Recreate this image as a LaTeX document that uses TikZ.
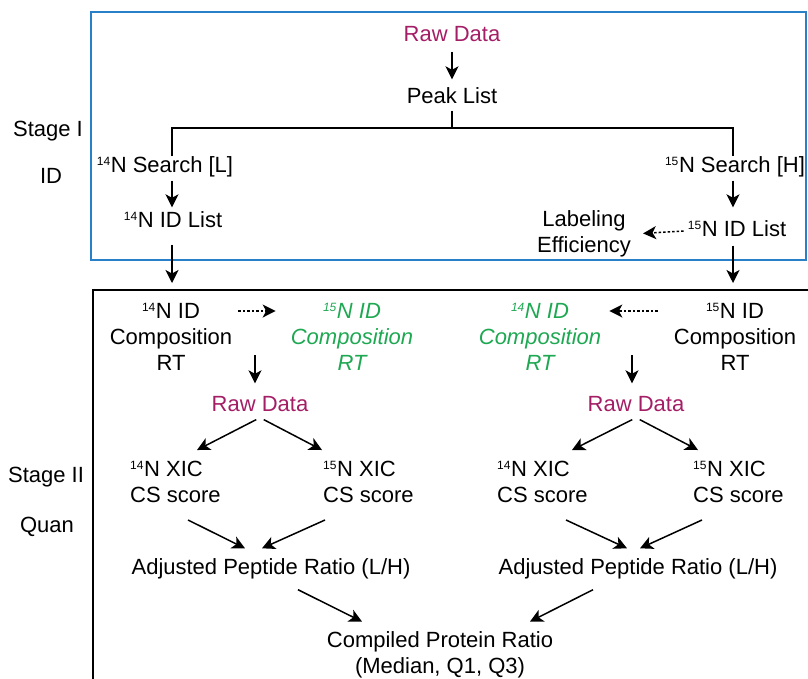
\documentclass[tikz,border=0pt]{standalone}
\usepackage{fontspec}
\setmainfont{Liberation Sans}
\usetikzlibrary{arrows.meta}
\definecolor{rawcol}{RGB}{164,30,102}
\definecolor{estcol}{RGB}{30,168,82}
\definecolor{stageblue}{RGB}{40,128,200}
% small raised isotope mass number
\newcommand{\iso}[1]{\raisebox{7pt}{\fontsize{12}{12}\selectfont #1}\kern0.6pt}
\begin{document}
\begin{tikzpicture}[x=1pt,y=-1pt,
  every node/.style={font=\fontsize{22}{26}\selectfont},
  lbl/.style={text height=15pt,text depth=4pt,inner sep=3pt},
  blk/.style={align=center,inner sep=2pt},
  est/.style={blk,text=estcol,font=\fontsize{22}{26}\selectfont\itshape},
  xic/.style={align=left,inner sep=2pt,anchor=west},
  raw/.style={lbl,text=rawcol},
  arr/.style={line width=1.5pt,-{Stealth[length=13pt,width=13pt,inset=3.5pt]}},
  dsh/.style={arr,dash pattern=on 2.5pt off 2pt},
  plain/.style={line width=1.5pt}]
\useasboundingbox (0,0) rectangle (808,678);
\clip (0,0) rectangle (808,678);

% stage frames
\draw[stageblue,line width=1.8pt] (91,12) rectangle (806,260);
\draw[black,line width=1.5pt] (93,290) rectangle (814,700);

% stage captions
\node (st1) at (48,131) {Stage I};
\node (st1b) at (51,176) {ID};
\node (st2) at (46,477) {Stage II};
\node (st2b) at (47,527) {Quan};

% stage I: identification
\node[raw] (raw1) at (452,36) {Raw Data};
\node[lbl] (peak) at (452,98) {Peak List};
\coordinate (split) at (452,128);
\node[lbl] (s14) at (165,167) {\iso{14}N Search [L]};
\node[lbl] (s15) at (735,167) {\iso{15}N Search [H]};
\node[lbl] (id14) at (173,222) {\iso{14}N ID List};
\node[lbl] (id15) at (737,231) {\iso{15}N ID List};
\node[blk] (lab) at (584,234) {Labeling\\Efficiency};

\draw[arr,shorten <=3pt,shorten >=6pt] (raw1.south) -- (peak.north);
\draw[plain] (peak.south) -- (split);
\draw[plain] ([xshift=7pt,yshift=-2pt]s14.north) |- (split) -| ([xshift=-2pt,yshift=-2pt]s15.north);
\draw[arr,shorten <=1pt,shorten >=2pt] ([xshift=7pt]s14.south) -- ([xshift=-1pt]id14.north);
\draw[arr,shorten <=1pt,shorten >=11pt] ([xshift=-2pt]s15.south) -- ([xshift=-4pt]id15.north);
\draw[dsh,shorten <=1pt,shorten >=10pt] (id15.west) -- (lab.east);
\draw[arr,shorten <=10pt,shorten >=20pt] ([xshift=-1pt]id14.south) -- ([xshift=-1pt]id14.south |- 0,303);
\draw[arr,shorten <=2pt,shorten >=20pt] ([xshift=-4pt]id15.south) -- ([xshift=-4pt]id15.south |- 0,303);

% stage II: quantification
\node[blk] (c14a) at (171,337) {\iso{14}N ID\\Composition\\RT};
\node[est] (c15a) at (352,337) {\iso{15}N ID\\Composition\\RT};
\node[est] (c14b) at (540,337) {\iso{14}N ID\\Composition\\RT};
\node[blk] (c15b) at (735,337) {\iso{15}N ID\\Composition\\RT};

\draw[dsh,shorten <=4pt,shorten >=13pt] ([yshift=26pt]c14a.east) -- ([yshift=26pt]c15a.west);
\draw[dsh,shorten <=14pt,shorten >=6pt] ([yshift=26pt]c15b.west) -- ([yshift=26pt]c14b.east);

\node[raw] (raw2) at (260,406) {Raw Data};
\node[raw] (raw3) at (636,406) {Raw Data};
\coordinate (d1) at (255,355);
\coordinate (d2) at (632,355);
\draw[arr,shorten >=10pt] (d1) -- (d1 |- raw2.north);
\draw[arr,shorten >=10pt] (d2) -- (d2 |- raw3.north);

\node[xic] (xic1) at (128,482) {\iso{14}N XIC\\CS score};
\node[xic] (xic2) at (321,482) {\iso{15}N XIC\\CS score};
\node[xic] (xic3) at (495,482) {\iso{14}N XIC\\CS score};
\node[xic] (xic4) at (691,482) {\iso{15}N XIC\\CS score};

\draw[arr,shorten <=2pt] ([xshift=-2pt]raw2.south) -- ([xshift=69pt,yshift=9pt]xic1.north west);
\draw[arr,shorten <=2pt] ([xshift=2pt]raw2.south) -- ([xshift=1pt,yshift=9pt]xic2.north west);
\draw[arr,shorten <=2pt] ([xshift=-2pt]raw3.south) -- ([xshift=77pt,yshift=9pt]xic3.north west);
\draw[arr,shorten <=2pt] ([xshift=2pt]raw3.south) -- ([xshift=7pt,yshift=9pt]xic4.north west);

\node[lbl] (adj1) at (271,569) {Adjusted Peptide Ratio (L/H)};
\node[lbl] (adj2) at (638,569) {Adjusted Peptide Ratio (L/H)};

\draw[arr] ([xshift=60pt,yshift=-15pt]xic1.south west) -- ([xshift=-26pt,yshift=8pt]adj1.north);
\draw[arr] ([xshift=4pt,yshift=-15pt]xic2.south west) -- ([xshift=-9pt,yshift=8pt]adj1.north);
\draw[arr] ([xshift=71pt,yshift=-15pt]xic3.south west) -- ([xshift=-11pt,yshift=8pt]adj2.north);
\draw[arr] ([xshift=11pt,yshift=-15pt]xic4.south west) -- ([xshift=2pt,yshift=8pt]adj2.north);

\node[blk] (comp) at (440,655) {Compiled Protein Ratio\\(Median, Q1, Q3)};

\draw[arr] ([xshift=27pt,yshift=-8pt]adj1.south) -- ([xshift=-78pt,yshift=8pt]comp.north);
\draw[arr] ([xshift=-45pt,yshift=-8pt]adj2.south) -- ([xshift=90pt,yshift=8pt]comp.north);
\end{tikzpicture}
\end{document}
